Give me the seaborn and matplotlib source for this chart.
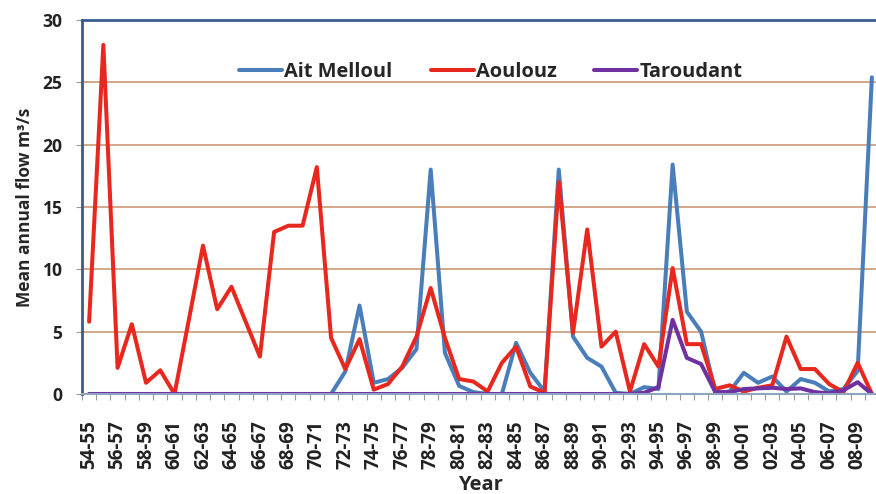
import numpy as np
import pandas as pd
import matplotlib
matplotlib.use("Agg")
import matplotlib.pyplot as plt
import seaborn as sns

years = ["54-55", "55-56", "56-57", "57-58", "58-59", "59-60", "60-61", "61-62",
         "62-63", "63-64", "64-65", "65-66", "66-67", "67-68", "68-69", "69-70",
         "70-71", "71-72", "72-73", "73-74", "74-75", "75-76", "76-77", "77-78",
         "78-79", "79-80", "80-81", "81-82", "82-83", "83-84", "84-85", "85-86",
         "86-87", "87-88", "88-89", "89-90", "90-91", "91-92", "92-93", "93-94",
         "94-95", "95-96", "96-97", "97-98", "98-99", "99-00", "00-01", "01-02",
         "02-03", "03-04", "04-05", "05-06", "06-07", "07-08", "08-09", "09-10"]

ait_melloul = [0, 0, 0, 0, 0, 0, 0, 0, 0, 0, 0, 0, 0, 0, 0, 0,
               0, 0, 1.8, 7.1, 0.9, 1.2, 2.1, 3.6, 18.0, 3.3, 0.65, 0.15,
               0, 0, 4.1, 1.7, 0.2, 18.0, 4.6, 2.9, 2.2, 0.1, 0, 0.55,
               0.4, 18.4, 6.6, 5.0, 0.1, 0.2, 1.7, 0.9, 1.4, 0.2, 1.2, 0.9,
               0.2, 0.4, 1.85, 25.4]

aoulouz = [5.8, 28.0, 2.1, 5.6, 0.9, 1.9, 0.0, 5.9, 11.9, 6.8, 8.6, 5.8,
           3.0, 13.0, 13.5, 13.5, 18.2, 4.5, 2.0, 4.4, 0.35, 0.8, 2.2, 4.6,
           8.5, 4.5, 1.2, 1.0, 0.2, 2.5, 3.8, 0.6, 0.1, 17.0, 4.9, 13.2,
           3.8, 5.0, 0.2, 4.0, 2.2, 10.1, 4.0, 4.0, 0.4, 0.7, 0.2, 0.5,
           0.7, 4.6, 2.0, 2.0, 0.8, 0.15, 2.5, 0.0]

taroudant = [0, 0, 0, 0, 0, 0, 0, 0, 0, 0, 0, 0, 0, 0, 0, 0,
             0, 0, 0, 0, 0, 0, 0, 0, 0, 0, 0, 0, 0, 0, 0, 0,
             0, 0, 0, 0, 0, 0, 0, 0.1, 0.55, 5.95, 2.9, 2.4, 0.15, 0.15,
             0.4, 0.45, 0.5, 0.4, 0.45, 0.15, 0.05, 0.3, 0.95, 0]

series_names = ["Ait Melloul", "Aoulouz", "Taroudant"]
colors = ["#4A7EBB", "#E8281E", "#7030A0"]

frames = []
for name, vals in zip(series_names, [ait_melloul, aoulouz, taroudant]):
    frames.append(pd.DataFrame({"idx": np.arange(len(years)), "flow": vals,
                                "station": name}))
df = pd.concat(frames, ignore_index=True)

sns.set_theme(style="white")
plt.rcParams["font.family"] = ["Open Sans", "DejaVu Sans"]
plt.rcParams["font.weight"] = "bold"

fig = plt.figure(figsize=(8.76, 4.94), dpi=100)
ax = fig.add_axes([82 / 876, 100 / 494, 797 / 876, 374 / 494])

sns.lineplot(data=df, x="idx", y="flow", hue="station", palette=colors,
             hue_order=series_names, linewidth=2.9, ax=ax, legend=True)

ax.set_xlim(-0.5, len(years) - 0.5)
ax.set_ylim(0, 30)
ax.set_yticks([0, 5, 10, 15, 20, 25, 30])
for yv in [5, 10, 15, 20, 25]:
    ax.axhline(yv, color="#C8916A", linewidth=1.1, zorder=0)

ax.set_xticks(np.arange(0, len(years), 2))
ax.set_xticklabels(years[::2], rotation=90, fontsize=13.5, fontweight="bold",
                   color="#222222")
ax.set_xticks(np.arange(-0.5, len(years), 1), minor=True)
ax.tick_params(axis="x", which="major", length=0, pad=19)
ax.tick_params(axis="x", which="minor", length=4, width=0.8, color="#999999",
               direction="out", bottom=True)
ax.tick_params(axis="y", which="major", length=4, width=0.8, color="#999999",
               left=True, labelsize=12.6, labelcolor="#222222", pad=10)
for lbl in ax.get_yticklabels():
    lbl.set_fontweight("bold")

ax.set_xlabel("Year", fontsize=14.5, fontweight="bold", labelpad=4)
ax.set_ylabel("Mean annual flow m³/s", fontsize=12.5, fontweight="bold",
              labelpad=6)

for side in ["left", "top", "right"]:
    ax.spines[side].set_color("#385D8A")
    ax.spines[side].set_linewidth(2.0)
ax.spines["bottom"].set_color("#8EA4C0")
ax.spines["bottom"].set_linewidth(1.5)

handles, labels = ax.get_legend_handles_labels()
ax.legend(handles, labels, loc="center", bbox_to_anchor=(0.513, 0.861),
          ncol=3, frameon=False, handlelength=2.15,
          handletextpad=0.1, columnspacing=1.9,
          prop={"weight": "bold", "size": 14.4})

fig.savefig("out.png", dpi=100)
